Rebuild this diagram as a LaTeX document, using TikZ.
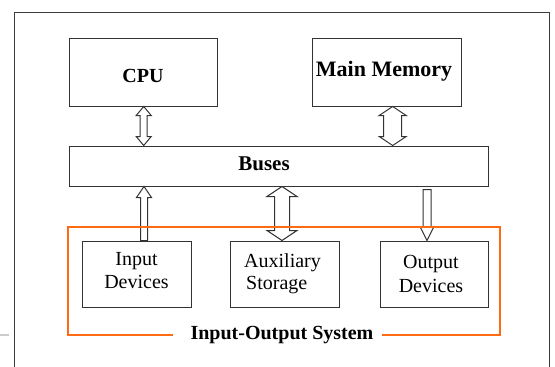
\documentclass[tikz,border=0pt]{standalone}
\usepackage{fontspec}
\setmainfont{Liberation Serif}
\usetikzlibrary{calc}
\definecolor{boxline}{HTML}{333333}
\definecolor{framegray}{HTML}{3C3C3C}
\definecolor{iorange}{HTML}{FF6A13}
\definecolor{tickgray}{HTML}{CCCCCC}
\newcommand\dblarr[6]{\draw[barrow] let \p1=#1, \p2=#2, \p3=#3 in
  (\x1,\y2) -- (\x1+#5,\y2-#6) -- (\x1+#4,\y2-#6) -- (\x1+#4,\y3+#6) -- (\x1+#5,\y3+#6) -- (\x1,\y3)
  -- (\x1-#5,\y3+#6) -- (\x1-#4,\y3+#6) -- (\x1-#4,\y2-#6) -- (\x1-#5,\y2-#6) -- cycle;}
\newcommand\uparr[6]{\draw[barrow] let \p1=#1, \p2=#2, \p3=#3 in
  (\x1,\y2) -- (\x1+#5,\y2-#6) -- (\x1+#4,\y2-#6) -- (\x1+#4,\y3) -- (\x1-#4,\y3)
  -- (\x1-#4,\y2-#6) -- (\x1-#5,\y2-#6) -- cycle;}
\newcommand\downarr[6]{\draw[barrow] let \p1=#1, \p2=#2, \p3=#3 in
  (\x1-#4,\y2) -- (\x1+#4,\y2) -- (\x1+#4,\y3+#6) -- (\x1+#5,\y3+#6) -- (\x1,\y3)
  -- (\x1-#5,\y3+#6) -- (\x1-#4,\y3+#6) -- cycle;}
\begin{document}
\begin{tikzpicture}[x=1pt,y=-1pt,
  box/.style={draw=boxline, line width=1pt, fill=white, inner sep=0pt},
  barrow/.style={draw=boxline, line width=1pt, fill=white, line join=miter},
  lbl/.style={anchor=base, inner sep=0pt, font=\fontsize{20}{24}\selectfont},
  boldlbl/.style={anchor=base, inner sep=0pt, font=\fontsize{20}{24}\selectfont\bfseries}]
\useasboundingbox (0,0) rectangle (555,367);
% outer frame (open at the bottom edge of the picture)
\draw[framegray, line width=1pt] (14,372) -- (14,12.5) -- (549,12.5) -- (549,372);
\draw[tickgray, line width=1.5pt] (0,335) -- (9,335);
% boxes
\node[box, minimum width=148pt, minimum height=68pt] (cpu) at (143,72) {};
\node[box, minimum width=149pt, minimum height=68pt] (mem) at (386.5,72) {};
\node[box, minimum width=419pt, minimum height=40pt] (bus) at (278.5,166) {};
\node[box, minimum width=109pt, minimum height=66pt] (inp) at (136.5,274) {};
\node[box, minimum width=109pt, minimum height=66pt] (aux) at (284.5,274) {};
\node[box, minimum width=108pt, minimum height=66pt] (out) at (434,274) {};
% labels
\node[boldlbl] (cputxt) at (143,82) {CPU};
\node[boldlbl, font=\fontsize{22}{26}\selectfont\bfseries] (memtxt) at (384,76) {Main Memory};
\node[boldlbl, font=\fontsize{21}{25}\selectfont\bfseries] (bustxt) at (264,170) {Buses};
\node[lbl] (inptxta) at (136.5,265) {Input};
\node[lbl] (inptxtb) at (136.5,288) {Devices};
\node[lbl, anchor=base west] (auxtxta) at (244,267) {Auxiliary};
\node[lbl, anchor=base west] (auxtxtb) at (246,289) {Storage};
\node[lbl] (outtxta) at (431,268) {Output};
\node[lbl] (outtxtb) at (431,292) {Devices};
% block arrows
\dblarr{([xshift=0.7pt]cpu.south)}{(cpu.south)}{(bus.north)}{3.5pt}{7.5pt}{9pt}
\dblarr{([xshift=6.2pt]mem.south)}{(mem.south)}{(bus.north)}{9pt}{13.5pt}{9pt}
\uparr{([xshift=7.5pt]inp.north)}{(bus.south)}{(inp.north)}{3.5pt}{7.5pt}{11pt}
\dblarr{([xshift=-2.5pt]aux.north)}{(bus.south)}{(aux.north)}{7.5pt}{15pt}{10pt}
\downarr{([xshift=-7pt]out.north)}{([yshift=-3pt]bus.south)}{(out.north)}{4pt}{7pt}{14pt}
% input-output system frame
\draw[iorange, line width=2pt] (173,335) -- (68,335) -- (68,227) -- (500,227) -- (500,335) -- (382,335);
\node[boldlbl] (iotitle) at (282,339) {Input-Output System};
\end{tikzpicture}
\end{document}
